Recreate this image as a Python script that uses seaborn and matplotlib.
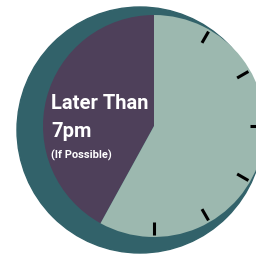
import numpy as np
import matplotlib
matplotlib.use("Agg")
import matplotlib.pyplot as plt
from matplotlib.patches import Circle
import seaborn as sns

# data
labels = ["Later Than 7pm", "Earlier"]
shares = [42, 58]
hour_ticks = [1, 2, 3, 4, 5, 6]
title_lines = ["Later Than", "7pm"]
note = "(If Possible)"

colors = ["#4e405a", "#9cb8af"]
ring_color = "#32626a"

sns.set_style("white")
plt.rcParams["font.family"] = ["Roboto", "DejaVu Sans"]

W, H = 256, 257
fig = plt.figure(figsize=(W / 100, H / 100), dpi=100)
ax = fig.add_axes([0, 0, 1, 1])

# outer clock body (offset to the lower left)
ax.add_patch(Circle((140, H - 130), 123, color=ring_color, zorder=0))

cx, cy, r = 154, H - 126, 111
ax.pie(shares, colors=colors, startangle=90, counterclock=True,
       center=(cx, cy), radius=r, wedgeprops=dict(linewidth=0))

# hour marks on the right side
for h in hour_ticks:
    a = np.deg2rad(90 - h * 30)
    r0, r1 = 96, 109
    ax.plot([cx + r0 * np.cos(a), cx + r1 * np.cos(a)],
            [cy + r0 * np.sin(a), cy + r1 * np.sin(a)],
            color="black", lw=2.2, solid_capstyle="butt", zorder=5)

ax.text(51, H - 109, title_lines[0], color="white", fontsize=14.5,
        fontweight="bold", ha="left", va="baseline")
ax.text(51, H - 137, title_lines[1], color="white", fontsize=14.5,
        fontweight="bold", ha="left", va="baseline")
ax.text(51, H - 159, note, color="white", fontsize=8,
        fontweight="bold", ha="left", va="baseline")

ax.set_xlim(0, W)
ax.set_ylim(0, H)
ax.set_aspect("equal")
ax.axis("off")

plt.savefig("out.png", dpi=100)
